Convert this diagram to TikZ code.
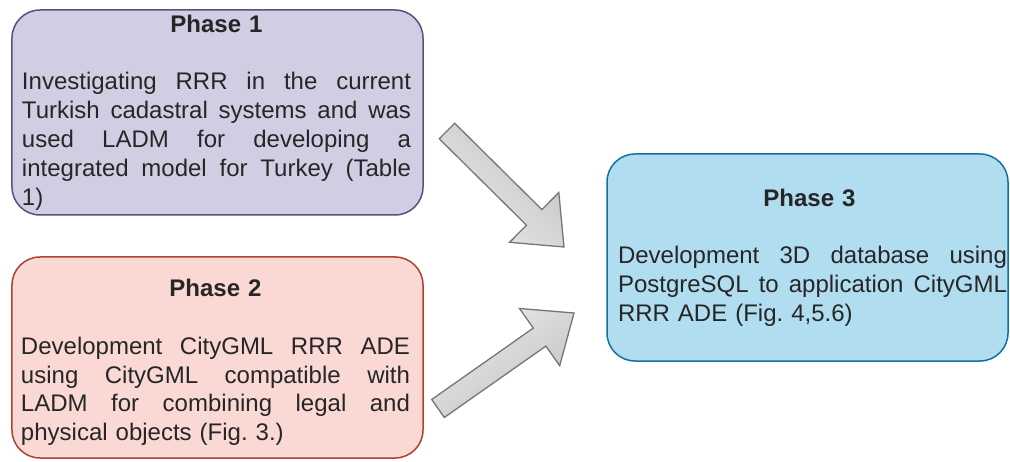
\documentclass[tikz,border=0pt]{standalone}
\usepackage{fontspec}
\setmainfont{Liberation Sans}
\frenchspacing
\definecolor{f1}{HTML}{D0CEE2}\definecolor{s1}{HTML}{56517E}
\definecolor{f2}{HTML}{FAD9D5}\definecolor{s2}{HTML}{AE4132}
\definecolor{f3}{HTML}{B1DDF0}\definecolor{s3}{HTML}{10739E}
\definecolor{txtc}{HTML}{262626}
\definecolor{arrs}{HTML}{767676}
\definecolor{arrd}{HTML}{C2C2C2}
\definecolor{arrl}{HTML}{EAEAEA}
\newcommand\jline[1]{\makebox[389bp][l]{#1}}
\newcommand\gap{\hfill\ }
\newcommand\ttl[1]{\makebox[389bp][c]{\bfseries #1}}
\begin{document}
\begin{tikzpicture}[x=1bp,y=-1bp,
  phasebox/.style={rounded corners=28bp, line width=1.5bp, inner sep=0pt},
  txt/.style={inner sep=0pt, align=left, text=txtc,
    font=\fontsize{24bp}{28.8bp}\selectfont},
  blockarrow/.style={draw=arrs, line width=1.3bp, line join=miter}]
\useasboundingbox (0,0) rectangle (1010,462);

% boxes
\node[phasebox, draw=s1, fill=f1, minimum width=411bp, minimum height=205bp] (p1) at (217.5,112.5) {};
\node[phasebox, draw=s2, fill=f2, minimum width=411bp, minimum height=201bp] (p2) at (217.5,357.5) {};
\node[phasebox, draw=s3, fill=f3, minimum width=401bp, minimum height=207bp] (p3) at (807.5,257.5) {};

% texts
\node[txt, text width=389bp] (p1t) at ([xshift=-1bp]p1.center) {%
\ttl{Phase 1}\\
\mbox{}\\
\jline{Investigating\gap RRR\gap in\gap the\gap current}\\
\jline{Turkish\gap cadastral\gap systems\gap and\gap was}\\
\jline{used\gap LADM\gap for\gap developing\gap a}\\
\jline{integrated\gap model\gap for\gap Turkey\gap (Table}\\
1)};

\node[txt, text width=389bp] (p2t) at ([xshift=-2bp,yshift=-5bp]p2.center) {%
\ttl{Phase 2}\\
\mbox{}\\
\jline{Development\gap CityGML\gap RRR\gap ADE}\\
\jline{using\gap CityGML\gap compatible\gap with}\\
\jline{LADM\gap for\gap combining\gap legal\gap and}\\
physical objects (Fig. 3.)};

\node[txt, text width=389bp] (p3t) at ([xshift=5bp]p3.center) {%
\makebox[389bp][c]{\hspace*{-6bp}\bfseries Phase 3}\\
\mbox{}\\
\jline{Development\gap 3D\gap database\gap using}\\
\jline{PostgreSQL\gap to\gap application\gap CityGML}\\
RRR ADE (Fig. 4,5.6)};

% block arrow 1 (Phase 1 -> Phase 3)
\path[blockarrow, top color=arrd, bottom color=arrl, shading angle=-45]
  (439.3,138.8) -- (454.7,123.2) -- (541.9,209.6) -- (558.8,192.5)
  -- (564,247) -- (509.6,242.3) -- (526.5,225.2) -- cycle;

% block arrow 2 (Phase 2 -> Phase 3)
\path[blockarrow, top color=arrl, bottom color=arrd, shading angle=35]
  (431.7,399.5) -- (533.3,328.1) -- (519.5,308.5) -- (574,313)
  -- (559.7,365.7) -- (545.9,346.1) -- (444.3,417.5) -- cycle;
\end{tikzpicture}
\end{document}
